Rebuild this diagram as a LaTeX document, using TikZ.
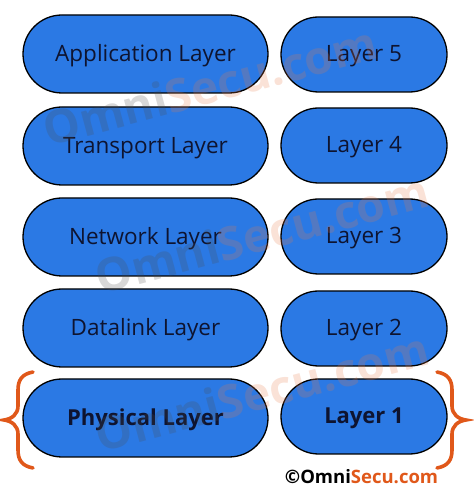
\documentclass[tikz,border=0pt]{standalone}
\usepackage{fontspec}
\setmainfont{Open Sans}
\usetikzlibrary{positioning}
\usetikzlibrary{shapes.misc}

\definecolor{layerblue}{RGB}{43,121,228}
\definecolor{layertext}{RGB}{14,20,48}
\definecolor{braceorange}{RGB}{224,88,26}

\tikzset{
  pill/.style={rounded rectangle,draw=black,line width=1.3pt,fill=layerblue,
    text=layertext,font=\fontsize{22.5}{26}\selectfont,inner sep=0pt,
    text height=15pt,text depth=0pt},
  layerpill/.style={pill,minimum width=245pt,minimum height=78pt},
  numpill/.style={pill,minimum width=166pt,minimum height=75pt},
  curly/.style={draw=braceorange,line width=3.6pt,line cap=round},
  wmark/.style={font=\fontsize{46}{50}\selectfont\bfseries,rotate=15,inner sep=0pt,text opacity=0.22}
}

\begin{document}
\begin{tikzpicture}[x=1pt,y=1pt]
\useasboundingbox (0,0) rectangle (474,496);

\node[layerpill] (app) at (145.5,442) {Application Layer};
\node[layerpill] (trans) at (145.5,350) {Transport Layer};
\node[layerpill] (net) at (145.5,259) {Network Layer};
\node[layerpill] (dl) at (145.5,168) {Datalink Layer};
\node[layerpill,font=\fontsize{22}{26}\selectfont\bfseries] (phy) at (145.5,78) {Physical Layer};

\node[numpill] (l5) at (364,441.5) {Layer 5};
\node[numpill] (l4) at (364,350.5) {Layer 4};
\node[numpill] (l3) at (364,259.5) {Layer 3};
\node[numpill] (l2) at (364,167.5) {Layer 2};
\node[numpill,font=\fontsize{22}{26}\selectfont\bfseries] (l1) at (364,79.5) {Layer 1};

% braces round the bottom row
\draw[curly] (33,124) .. controls (22,122) and (18,116) .. (18,106) -- (18,90)
  .. controls (18,82) and (12,77) .. (4,76) .. controls (12,75) and (18,70) .. (18,62)
  -- (18,46) .. controls (18,36) and (22,30) .. (33,28);
\draw[curly] (437,124) .. controls (448,122) and (452,116) .. (452,106) -- (452,90)
  .. controls (452,82) and (458,77) .. (466,76) .. controls (458,75) and (452,70) .. (452,62)
  -- (452,46) .. controls (452,36) and (448,30) .. (437,28);

% watermarks
\node[wmark] (wm1) at (210,410) {\textcolor{black!70}{Omni}\textcolor{braceorange!80}{Secu.com}};
\node[wmark] (wm2) at (262,262) {\textcolor{black!70}{Omni}\textcolor{braceorange!80}{Secu.com}};
\node[wmark] (wm3) at (262,104) {\textcolor{black!70}{Omni}\textcolor{braceorange!80}{Secu.com}};

\node[font=\fontsize{18.5}{20}\selectfont\bfseries] (copy) at (361.5,19)
  {\textcopyright\textcolor{black}{Omni}\textcolor{braceorange}{Secu.com}};
\end{tikzpicture}
\end{document}
